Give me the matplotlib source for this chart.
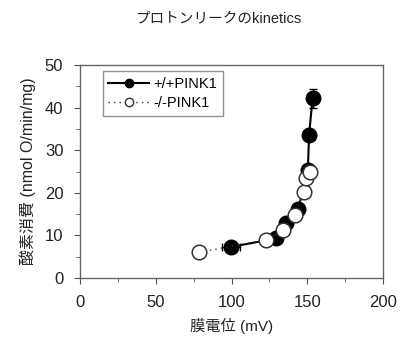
import matplotlib
matplotlib.use("Agg")
import matplotlib.pyplot as plt
from matplotlib.ticker import MultipleLocator
from matplotlib.lines import Line2D

plt.rcParams['font.family'] = ['Liberation Sans', 'Noto Sans CJK JP', 'DejaVu Sans']

# data -----------------------------------------------------------------
wt_x = [99.9, 129.7, 136.3, 144.0, 150.4, 151.2, 153.5]
wt_y = [7.3, 9.3, 12.8, 16.1, 25.4, 33.6, 42.2]
wt_xerr = [6.0, 0, 0, 0, 0, 0, 0]
wt_yerr = [0.4, 0, 0, 0, 0, 0, 2.3]

ko_x = [78.5, 123.0, 134.0, 141.8, 147.9, 149.5, 151.7]
ko_y = [6.0, 9.0, 11.2, 14.8, 20.2, 23.4, 24.9]

labels = ["+/+PINK1", "-/-PINK1"]

fig = plt.figure(figsize=(4.0, 3.39), dpi=100)
ax = fig.add_axes([0.2, 0.18, 0.7575, 0.628])

ax.errorbar(wt_x, wt_y, xerr=wt_xerr, yerr=wt_yerr, fmt="o-", color="black",
            mfc="black", mec="black", ms=10.5, lw=1.5, elinewidth=1.0,
            capsize=3, zorder=2)
ax.plot(ko_x, ko_y, "o", ls=(0, (1, 3)), color="#333333", mfc="white",
        mec="#333333", ms=10.5, mew=1.1, lw=1.0, zorder=3)

ax.set_xlim(0, 200)
ax.set_ylim(0, 50)
ax.xaxis.set_major_locator(MultipleLocator(50))
ax.xaxis.set_minor_locator(MultipleLocator(25))
ax.yaxis.set_major_locator(MultipleLocator(10))
ax.yaxis.set_minor_locator(MultipleLocator(5))
ax.tick_params(which="both", direction="out", color="#555555", labelsize=12,
               labelcolor="#222222", pad=8)
ax.tick_params(which="major", length=4)
ax.tick_params(which="minor", length=3)
for sp in ax.spines.values():
    sp.set_color("#666666")
    sp.set_linewidth(1.0)

ax.set_xlabel("膜電位 (mV)", fontsize=11, color="#222222", labelpad=6)
ax.set_ylabel("酸素消費 (nmol O/min/mg)", fontsize=11.5, color="#222222", labelpad=6)
fig.text(0.545, 0.947, "プロトンリークのkinetics", ha="center", va="center",
         fontsize=10.5, color="#222222")

handles = [
    Line2D([], [], color="black", lw=1.5, marker="o", ms=6, mfc="black", mec="black"),
    Line2D([], [], color="#333333", lw=1.0, ls=(0, (1, 3)), marker="o", ms=6,
           mfc="white", mec="#333333"),
]
leg = ax.legend(handles, labels, loc="upper left", bbox_to_anchor=(0.065, 0.985),
                fontsize=10.5, frameon=True, fancybox=False, handlelength=2.8,
                borderpad=0.4, labelspacing=0.35, handletextpad=0.3,
                borderaxespad=0.2)
leg.get_frame().set_edgecolor("#777777")
leg.get_frame().set_linewidth(1.0)

fig.savefig("out.png", dpi=100)
